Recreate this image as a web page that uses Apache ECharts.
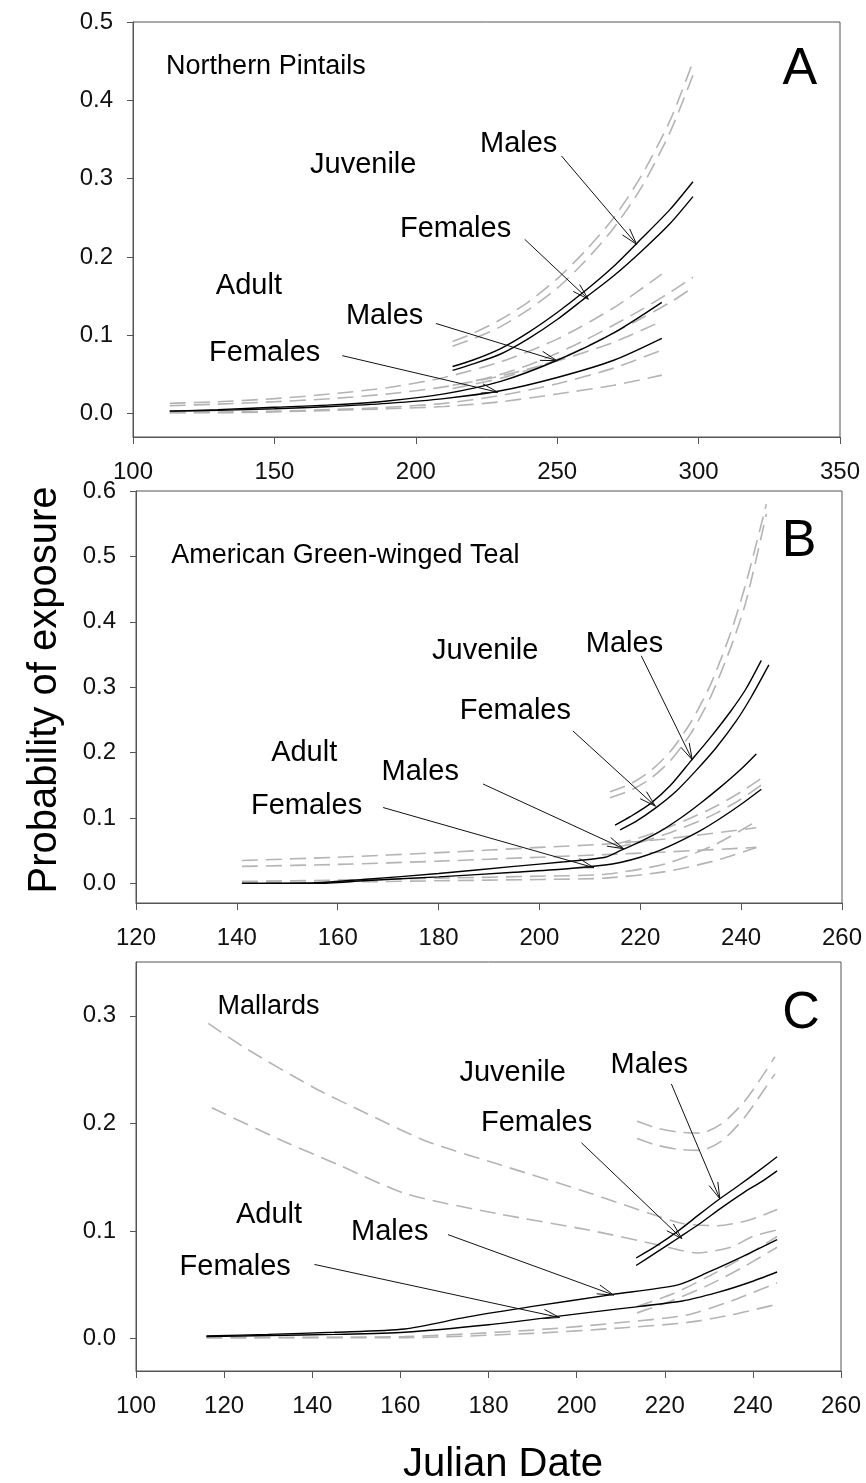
<!DOCTYPE html>
<html><head><meta charset="utf-8">
<script src="https://cdn.jsdelivr.net/npm/echarts@6/dist/echarts.min.js"></script>
<style>html,body{margin:0;padding:0;background:#fff}#c{width:866px;height:1483px}</style>
</head><body><div id="c"></div>
<script>
// ---------- tick values ----------
const xTicksA = [100,150,200,250,300,350];
const yTicksA = [0.0,0.1,0.2,0.3,0.4,0.5];
const xTicksB = [120,140,160,180,200,220,240,260];
const yTicksB = [0.0,0.1,0.2,0.3,0.4,0.5,0.6];
const xTicksC = [100,120,140,160,180,200,220,240,260];
const yTicksC = [0.0,0.1,0.2,0.3];

// ---------- Panel A : Northern Pintails ----------
const pinAdultMale   = [[113,0.003],[130,0.005],[150,0.008],[170,0.011],[190,0.016],[210,0.025],[230,0.041],[250,0.068],[270,0.103],[287,0.142]];
const pinAdultFemale = [[113,0.003],[130,0.004],[150,0.006],[170,0.009],[190,0.013],[210,0.019],[230,0.029],[250,0.046],[270,0.068],[287,0.096]];
const pinJuvMale     = [[213,0.060],[220,0.068],[230,0.083],[240,0.104],[250,0.129],[260,0.157],[270,0.188],[280,0.224],[290,0.261],[298,0.296]];
const pinJuvFemale   = [[213,0.055],[220,0.063],[230,0.076],[240,0.096],[250,0.120],[260,0.148],[270,0.176],[280,0.208],[290,0.243],[298,0.277]];
const pinAdultMaleUp   = [[113,0.013],[130,0.015],[150,0.019],[170,0.025],[190,0.033],[210,0.046],[230,0.066],[250,0.095],[270,0.135],[287,0.178]];
const pinAdultFemaleUp = [[113,0.010],[130,0.012],[150,0.015],[170,0.019],[190,0.025],[210,0.034],[230,0.048],[250,0.067],[270,0.091],[287,0.118]];
const pinAdultMaleLo   = [[113,0.001],[130,0.002],[150,0.003],[170,0.005],[190,0.008],[210,0.013],[230,0.023],[250,0.038],[270,0.058],[287,0.081]];
const pinAdultFemaleLo = [[113,0.001],[130,0.001],[150,0.002],[170,0.004],[190,0.006],[210,0.009],[230,0.015],[250,0.025],[270,0.036],[287,0.049]];
const pinJuvMaleUp     = [[213,0.092],[220,0.102],[230,0.120],[240,0.143],[250,0.172],[260,0.208],[270,0.250],[280,0.305],[290,0.375],[298,0.449]];
const pinJuvFemaleUp   = [[213,0.086],[220,0.095],[230,0.111],[240,0.133],[250,0.160],[260,0.195],[270,0.237],[280,0.290],[290,0.360],[298,0.432]];
const pinJuvMaleLo     = [[213,0.036],[220,0.041],[230,0.050],[240,0.062],[250,0.077],[260,0.094],[270,0.113],[280,0.133],[290,0.155],[298,0.174]];
const pinJuvFemaleLo   = [[213,0.032],[220,0.037],[230,0.045],[240,0.056],[250,0.069],[260,0.085],[270,0.103],[280,0.122],[290,0.142],[298,0.161]];

// ---------- Panel B : American Green-winged Teal ----------
const tealAdultMale   = [[141,0.000],[156,0.001],[165,0.006],[180,0.015],[195,0.026],[205,0.033],[213,0.040],[216,0.050],[220,0.064],[224,0.080],[228,0.100],[232,0.123],[236,0.148],[240,0.175],[243,0.198]];
const tealAdultFemale = [[141,0.000],[156,0.000],[165,0.004],[180,0.010],[195,0.017],[205,0.022],[213,0.028],[216,0.032],[220,0.040],[224,0.051],[228,0.065],[232,0.081],[236,0.100],[240,0.121],[244,0.144]];
const tealJuvMale     = [[215,0.089],[218,0.102],[222,0.122],[226,0.150],[230,0.187],[234,0.224],[238,0.264],[241,0.298],[244,0.341]];
const tealJuvFemale   = [[216,0.082],[219,0.094],[223,0.115],[227,0.140],[231,0.172],[235,0.207],[239,0.248],[242,0.285],[245.5,0.334]];
const tealJuvMaleUp     = [[214,0.140],[218,0.152],[222,0.172],[226,0.202],[230,0.246],[234,0.305],[238,0.385],[241,0.460],[245,0.580]];
const tealJuvFemaleUp   = [[214,0.131],[218,0.142],[222,0.160],[226,0.188],[230,0.229],[234,0.286],[238,0.362],[241,0.432],[245,0.565]];
const tealJuvMaleLo     = [[215,0.060],[220,0.070],[225,0.084],[230,0.100],[235,0.118],[240,0.140],[245,0.166]];
const tealJuvFemaleLo   = [[215,0.055],[220,0.063],[225,0.075],[230,0.090],[235,0.107],[240,0.129],[245,0.156]];
const tealAdultMaleUp   = [[141,0.035],[160,0.040],[180,0.047],[200,0.055],[213,0.060],[225,0.068],[243,0.085]];
const tealAdultFemaleUp = [[141,0.026],[160,0.029],[180,0.034],[200,0.040],[213,0.044],[225,0.048],[243,0.055]];
const tealAdultMaleLo   = [[141,0.003],[160,0.005],[180,0.008],[200,0.011],[213,0.014],[225,0.030],[235,0.060],[243,0.095]];
const tealAdultFemaleLo = [[141,0.001],[160,0.002],[180,0.004],[200,0.006],[213,0.008],[225,0.018],[235,0.035],[243,0.055]];

// ---------- Panel C : Mallards ----------
const malAdultMale   = [[116,0.0025],[130,0.004],[145,0.006],[161,0.009],[175,0.020],[190,0.030],[208,0.041],[223,0.050],[230,0.062],[238,0.077],[245.5,0.092]];
const malAdultFemale = [[116,0.002],[130,0.003],[145,0.004],[161,0.006],[180,0.013],[196,0.021],[210,0.028],[224,0.035],[232,0.043],[239,0.052],[245.5,0.062]];
const malJuvMale     = [[213.5,0.075],[218,0.086],[223,0.100],[228,0.116],[232.5,0.130],[237,0.143],[241,0.155],[245.5,0.169]];
const malJuvFemale   = [[213.5,0.068],[218,0.080],[223.6,0.095],[228,0.107],[233,0.122],[238,0.136],[242,0.146],[245.5,0.156]];
const malAdultMaleUp   = [[116.4,0.293],[124.8,0.270],[140.5,0.233],[153,0.208],[165.6,0.184],[182.3,0.162],[203.2,0.135],[216.8,0.116],[224.1,0.107],[232,0.105],[239,0.110],[245.5,0.120]];
const malAdultFemaleUp = [[117.2,0.2145],[133.2,0.184],[145.7,0.162],[161.4,0.1345],[182.3,0.116],[203.2,0.1006],[218.9,0.0868],[227.3,0.0797],[235,0.085],[240,0.095],[245.5,0.101]];
const malAdultMaleLo   = [[116,0.001],[161,0.002],[190,0.008],[210,0.015],[225,0.022],[235,0.035],[245.5,0.052]];
const malAdultFemaleLo = [[116,0.001],[161,0.001],[190,0.005],[210,0.010],[225,0.015],[235,0.022],[245.5,0.032]];
const malJuvMaleUp     = [[213.7,0.202],[218,0.196],[223,0.192],[228,0.191],[233,0.200],[238,0.220],[242,0.243],[245,0.262]];
const malJuvFemaleUp   = [[213.7,0.186],[218,0.180],[223,0.176],[228,0.175],[233,0.184],[238,0.205],[242,0.228],[245,0.246]];
const malJuvMaleLo     = [[213.7,0.030],[222,0.042],[230,0.058],[238,0.076],[245.5,0.095]];
const malJuvFemaleLo   = [[213.7,0.024],[222,0.036],[230,0.050],[238,0.067],[245.5,0.085]];

// ---------- annotation texts [x, y, text, kind] ----------
const labelsA = [[111.7,0.443,'Northern Pintails','s'],[335.8,0.439,'A','L'],[162.6,0.318,'Juvenile','m'],[222.7,0.344,'Males','m'],[194.4,0.236,'Females','m'],[129.3,0.163,'Adult','m'],[175.3,0.124,'Males','m'],[126.9,0.077,'Females','m']];
const labelsB = [[127.0,0.502,'American Green-winged Teal','s'],[251.5,0.522,'B','L'],[178.7,0.355,'Juvenile','m'],[209.2,0.366,'Males','m'],[184.2,0.263,'Females','m'],[146.8,0.199,'Adult','m'],[168.7,0.171,'Males','m'],[142.8,0.119,'Females','m']];
const labelsC = [[118.5,0.309,'Mallards','s'],[250.9,0.302,'C','L'],[173.4,0.247,'Juvenile','m'],[207.7,0.254,'Males','m'],[178.3,0.200,'Females','m'],[122.7,0.115,'Adult','m'],[148.8,0.099,'Males','m'],[109.9,0.067,'Females','m']];
// ---------- arrows [x1, y1, x2, y2] ----------
const arrowsA = [[251.5,0.329,278.1,0.216],[238.5,0.2225,261.0,0.146],[207.1,0.115,249.9,0.0675],[174.0,0.0739,229.0,0.0272]];
const arrowsB = [[220.2,0.348,230.3,0.189],[206.65,0.233,223.0,0.118],[188.8,0.152,216.7,0.053],[169.0,0.116,210.8,0.024]];
const arrowsC = [[221.5,0.2367,232.5,0.130],[201.1,0.182,223.9,0.093],[170.8,0.0967,208.4,0.0406],[140.5,0.069,196.1,0.0197]];

// ---------- build ----------
const FONT = "'Liberation Sans', Arial, sans-serif";
const gridsPx = [
  {left:133, top:22, width:707, height:415},
  {left:136, top:491, width:706, height:412},
  {left:136, top:962, width:705, height:409}
];
const xCfg = [[100,350,50,xTicksA],[120,260,20,xTicksB],[100,260,20,xTicksC]];
const yCfg = [[-0.03,0.5,yTicksA],[-0.03,0.6,yTicksB],[-0.03,0.35,yTicksC]];
const AX = '#555';

const grid = gridsPx.map(g => Object.assign({show:true, borderColor:AX, borderWidth:1, backgroundColor:'#fff'}, g));
const xAxis = xCfg.map((c,i) => ({
  type:'value', gridIndex:i, min:c[0], max:c[1], interval:c[2],
  axisLine:{show:true, onZero:false, lineStyle:{color:AX, width:1}},
  axisTick:{show:true, inside:false, length:7, lineStyle:{color:AX}, customValues:c[3]},
  axisLabel:{show:true, margin:23, fontSize:24, color:'#111', fontFamily:FONT, showMinLabel:true, showMaxLabel:true, customValues:c[3]},
  splitLine:{show:false}
}));
const yAxis = yCfg.map((c,i) => ({
  type:'value', gridIndex:i, min:c[0], max:c[1],
  axisLine:{show:true, onZero:false, lineStyle:{color:AX, width:1}},
  axisTick:{show:true, inside:false, length:6, lineStyle:{color:AX}, customValues:c[2]},
  axisLabel:{show:true, margin:20, fontSize:24, color:'#111', fontFamily:FONT, customValues:c[2], formatter:v=>Number(v).toFixed(1)},
  splitLine:{show:false}
}));

const series = [];
function solid(data, g){ series.push({type:'line', xAxisIndex:g, yAxisIndex:g, data, showSymbol:false, smooth:0.25, silent:true, z:5, lineStyle:{color:'#000', width:1.4}}); }
function dash(data, g){ series.push({type:'line', xAxisIndex:g, yAxisIndex:g, data, showSymbol:false, smooth:0.25, silent:true, z:3, lineStyle:{color:'#b4b4b4', width:1.6, type:[16,8]}}); }

[pinAdultMaleUp,pinAdultFemaleUp,pinAdultMaleLo,pinAdultFemaleLo,pinJuvMaleUp,pinJuvFemaleUp,pinJuvMaleLo,pinJuvFemaleLo].forEach(d=>dash(d,0));
[pinAdultMale,pinAdultFemale,pinJuvMale,pinJuvFemale].forEach(d=>solid(d,0));
[tealAdultMaleUp,tealAdultFemaleUp,tealAdultMaleLo,tealAdultFemaleLo,tealJuvMaleUp,tealJuvFemaleUp,tealJuvMaleLo,tealJuvFemaleLo].forEach(d=>dash(d,1));
[tealAdultMale,tealAdultFemale,tealJuvMale,tealJuvFemale].forEach(d=>solid(d,1));
[malAdultMaleUp,malAdultFemaleUp,malAdultMaleLo,malAdultFemaleLo,malJuvMaleUp,malJuvFemaleUp,malJuvMaleLo,malJuvFemaleLo].forEach(d=>dash(d,2));
[malAdultMale,malAdultFemale,malJuvMale,malJuvFemale].forEach(d=>solid(d,2));

const fontFor = {s:'27px '+FONT, m:'29px '+FONT, L:'52px '+FONT};
function labels(items, g){
  series.push({type:'custom', xAxisIndex:g, yAxisIndex:g, silent:true, z:10, clip:false,
    data: items.map(d=>[d[0],d[1]]),
    renderItem:(params, api)=>{
      const it = items[params.dataIndex];
      const p = api.coord([api.value(0), api.value(1)]);
      return {type:'text', x:p[0], y:p[1], style:{text:it[2], font:fontFor[it[3]], fill:'#000', align: it[3]==='L'?'center':'left', verticalAlign:'middle'}};
    }});
}
function arrows(items, g){
  series.push({type:'custom', xAxisIndex:g, yAxisIndex:g, silent:true, z:9, clip:false,
    data: items,
    renderItem:(params, api)=>{
      const a = api.coord([api.value(0), api.value(1)]);
      const b = api.coord([api.value(2), api.value(3)]);
      const ang = Math.atan2(b[1]-a[1], b[0]-a[0]);
      const L = 17, s = 0.28;
      const h1 = [b[0]-L*Math.cos(ang-s), b[1]-L*Math.sin(ang-s)];
      const h2 = [b[0]-L*Math.cos(ang+s), b[1]-L*Math.sin(ang+s)];
      return {type:'group', children:[
        {type:'line', shape:{x1:a[0], y1:a[1], x2:b[0], y2:b[1]}, style:{stroke:'#111', lineWidth:1}},
        {type:'polyline', shape:{points:[h1,b,h2]}, style:{stroke:'#111', lineWidth:1, fill:null}}
      ]};
    }});
}
labels(labelsA,0); labels(labelsB,1); labels(labelsC,2);
arrows(arrowsA,0); arrows(arrowsB,1); arrows(arrowsC,2);

const chart = echarts.init(document.getElementById('c'), null, {renderer:'canvas'});
chart.setOption({
  animation:false,
  backgroundColor:'#fff',
  grid, xAxis, yAxis, series,
  graphic:[
    {type:'text', x:45, y:690, rotation:Math.PI/2, style:{text:'Probability of exposure', font:'40px '+FONT, fill:'#000', align:'center', verticalAlign:'middle'}},
    {type:'text', x:503, y:1465, style:{text:'Julian Date', font:'40px '+FONT, fill:'#000', align:'center', verticalAlign:'middle'}}
  ]
});
</script></body></html>
